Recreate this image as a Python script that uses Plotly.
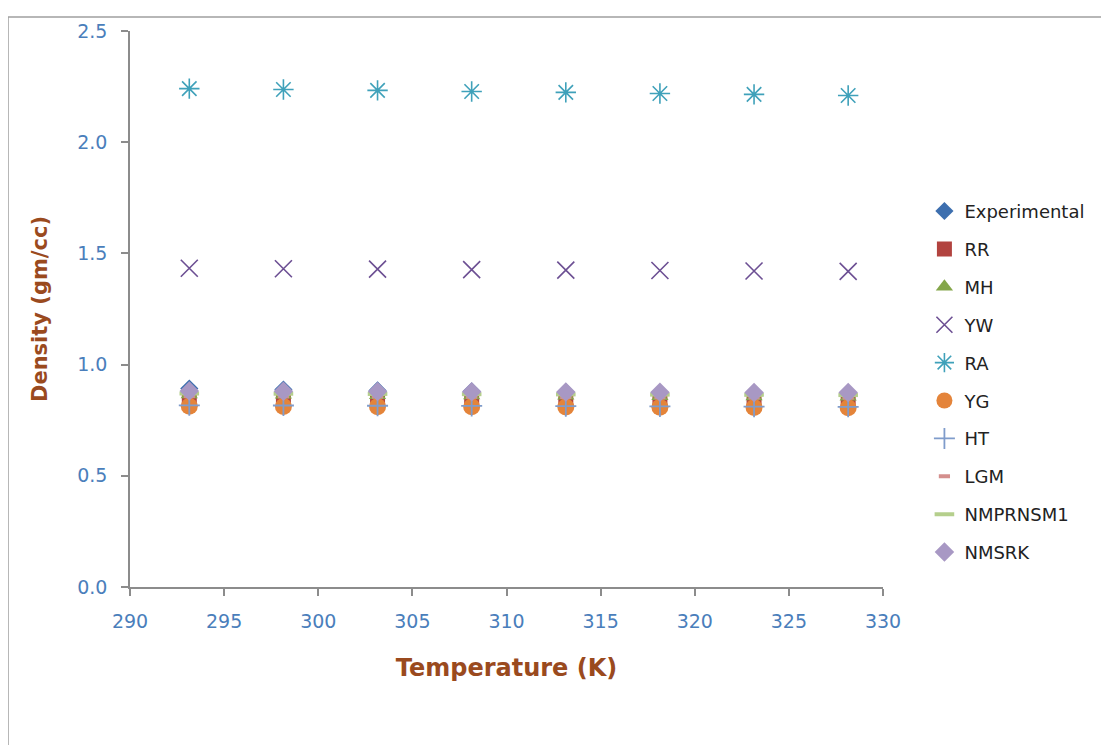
import plotly.graph_objects as go

temperature = [293.15, 298.15, 303.15, 308.15, 313.15, 318.15, 323.15, 328.15]

experimental = [0.892, 0.888, 0.884, 0.880, 0.876, 0.872, 0.868, 0.864]
rr = [0.842, 0.841, 0.840, 0.839, 0.838, 0.837, 0.836, 0.835]
mh = [0.865, 0.864, 0.862, 0.861, 0.860, 0.858, 0.857, 0.856]
yw = [1.433, 1.431, 1.429, 1.427, 1.425, 1.423, 1.421, 1.419]
ra = [2.241, 2.237, 2.233, 2.228, 2.224, 2.219, 2.215, 2.210]
yg = [0.813, 0.812, 0.811, 0.810, 0.809, 0.808, 0.807, 0.806]
ht = [0.817, 0.816, 0.815, 0.814, 0.813, 0.812, 0.811, 0.810]
lgm = [0.858, 0.857, 0.856, 0.855, 0.854, 0.853, 0.852, 0.851]
nmprnsm1 = [0.870, 0.869, 0.868, 0.867, 0.866, 0.865, 0.864, 0.863]
nmsrk = [0.881, 0.880, 0.879, 0.878, 0.877, 0.876, 0.875, 0.874]

series = [
    ("Experimental", experimental, "diamond", "#3D6FAF", 14, 0),
    ("RR", rr, "square", "#B2433F", 15, 0),
    ("MH", mh, "triangle-up", "#84A64A", 15, 0),
    ("YW", yw, "x-thin-open", "#6C4F93", 17, 1.6),
    ("RA", ra, "asterisk-open", "#3FA1BA", 17, 1.6),
    ("YG", yg, "circle", "#E4843A", 17, 0),
    ("HT", ht, "cross-thin-open", "#7F9CCB", 15, 1.8),
    ("LGM", lgm, "line-ew-open", "#D48F8D", 8, 4),
    ("NMPRNSM1", nmprnsm1, "line-ew-open", "#B5CF8C", 14, 4),
    ("NMSRK", nmsrk, "diamond", "#A898C4", 15, 0),
]

fig = go.Figure()
for i, (name, vals, sym, col, sz, lw) in enumerate(series):
    marker = dict(symbol=sym, color=col, size=sz)
    if lw:
        marker["line"] = dict(color=col, width=lw)
    else:
        marker["line"] = dict(width=0)
    fig.add_trace(go.Scatter(x=temperature, y=vals, mode="markers", name=name,
                             marker=marker, legendgroup=f"g{i}"))

FONT = "'DejaVu Sans', Verdana, sans-serif"
tick_font = dict(family=FONT, size=19, color="#4A7EBB")

# page body has an 8px margin; plot area targeted at x 130..883, y 27..587 on screen
L, T, W, H = 122, 19, 753, 560

fig.update_layout(
    width=1109, height=745,
    margin=dict(l=L, r=1109 - L - W, t=T, b=745 - T - H),
    paper_bgcolor="white", plot_bgcolor="white",
    showlegend=True,
    legend=dict(x=1.055, y=0.709, xanchor="left", yanchor="top",
                font=dict(family=FONT, size=18, color="#222222"),
                tracegroupgap=11.5, bgcolor="rgba(0,0,0,0)"),
    xaxis=dict(range=[290, 330], dtick=5, tick0=290, showgrid=False, zeroline=False,
               showline=True, linecolor="#8C8C8C", linewidth=1.5,
               ticks="outside", ticklen=7, tickcolor="#8C8C8C", tickwidth=1.5,
               tickfont=tick_font, ticklabelstandoff=9,
               title=dict(text="<b>Temperature (K)</b>",
                          font=dict(family=FONT, size=24, color="#9A4A1E"), standoff=29)),
    yaxis=dict(range=[0, 2.5], dtick=0.5, tick0=0, tickformat=".1f", showgrid=False,
               zeroline=False, showline=True, linecolor="#8C8C8C", linewidth=1.5,
               ticks="outside", ticklen=7, tickcolor="#8C8C8C", tickwidth=1.5,
               tickfont=tick_font, ticklabelstandoff=10,
               title=dict(text="<b>Density (gm/cc)</b>",
                          font=dict(family=FONT, size=21, color="#9A4A1E"), standoff=24)),
    shapes=[dict(type="rect", xref="paper", yref="paper",
                 x0=(0 - L) / W, x1=1.6, y0=-0.5, y1=(H + T - 5) / H,
                 line=dict(color="#A0A0A0", width=1.5), fillcolor="rgba(0,0,0,0)",
                 layer="below")],
)

fig.write_html("out.html")
